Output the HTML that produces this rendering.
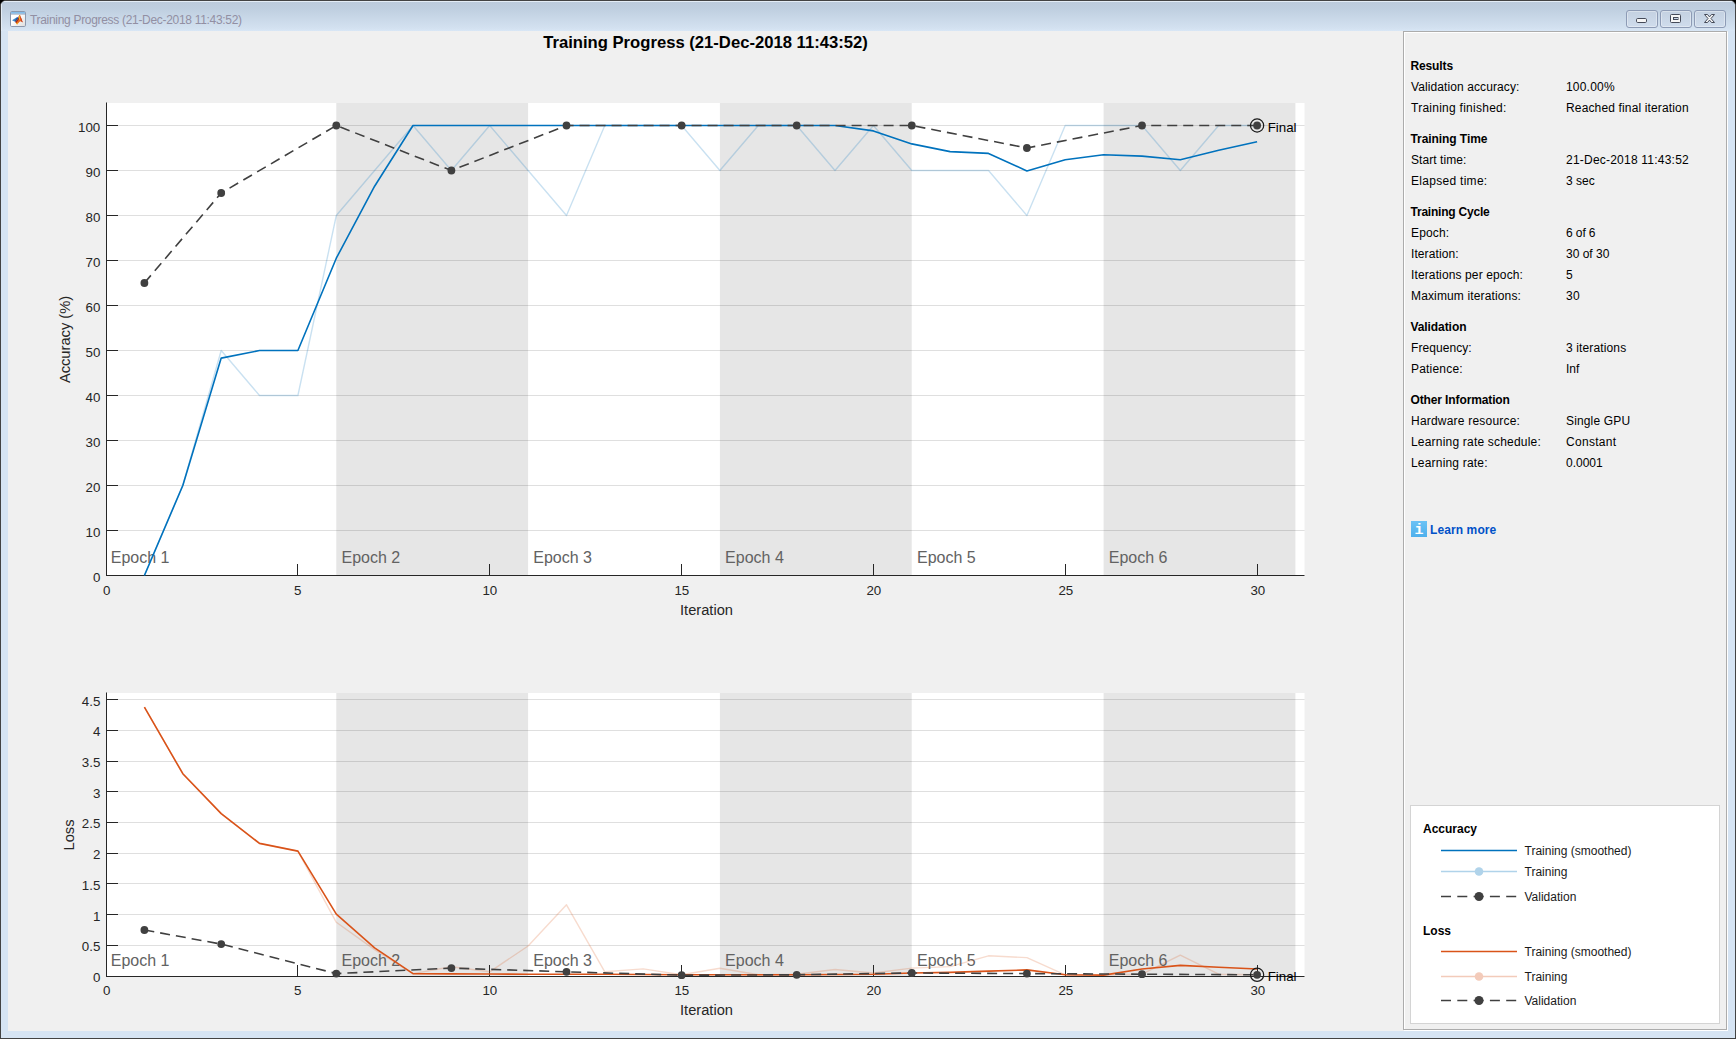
<!DOCTYPE html>
<html lang="en">
<head>
<meta charset="utf-8">
<title>Training Progress (21-Dec-2018 11:43:52)</title>
<style>
html,body{margin:0;padding:0;background:#000;}
body{width:1736px;height:1039px;overflow:hidden;position:relative;font-family:'Liberation Sans', Arial, Helvetica, sans-serif;}
#win{position:absolute;left:0;top:0;width:1734px;height:1037px;border:1px solid #434343;border-radius:6px 6px 0 0;background:#d6e4f3;overflow:hidden;}
#tb{position:absolute;left:0;top:0;width:1734px;height:30px;background:linear-gradient(#bccbdc 0px,#bfcfe0 8px,#d3e1f0 27px,#d8e6f5 30px);box-shadow:inset 0 1px 0 #e4edf6, inset 1px 0 0 #e4edf6;}
#ttl{position:absolute;left:29px;top:11px;font-size:12px;line-height:16px;color:#928fa3;white-space:nowrap;letter-spacing:-0.31px;}
#content{position:absolute;left:7px;top:30px;width:1720px;height:1000px;background:#f0f0f0;}
.wb{position:absolute;top:9px;height:18px;border:1px solid #8d9bb5;border-radius:3px;background:linear-gradient(#c4d1e1,#cfdcec);box-sizing:border-box;box-shadow:inset 0 0 0 1px rgba(255,255,255,.35);}
.t{position:absolute;font-size:12px;line-height:14px;color:#000;white-space:nowrap;}
.b{font-weight:bold;}
svg{position:absolute;left:0;top:0;}
svg text{font-family:'Liberation Sans', Arial, Helvetica, sans-serif;}
</style>
</head>
<body>
<div id="win">
<div id="tb"></div>
<svg width="16" height="16" viewBox="0 0 16 16" style="left:9px;top:10px;width:16px;height:16px">
<defs><linearGradient id="ib" x1="0" y1="0" x2="1" y2="1"><stop offset="0.4" stop-color="#fff"/><stop offset="1" stop-color="#dcdcdc"/></linearGradient></defs>
<rect x="0.5" y="0.5" width="15" height="15" rx="1.2" fill="url(#ib)" stroke="#8b98ad"/>
<rect x="1" y="1" width="14" height="1.800" fill="#84bdea"/>
<rect x="1" y="2.800" width="14" height="0.700" fill="#8b98ad"/>
<path d="M2 9.300 L7.300 5.900 L8.400 7.600 L5.500 11 Z" fill="#3f86c8"/>
<path d="M5.200 9.300 L7.300 5.900 L8.400 7.600 L5.500 11 Z" fill="#28579a"/>
<path d="M5.500 11 L8.300 7.500 L9 4.600 L9.500 4 L10.200 4.200 L11.500 8 L12.800 11.600 L11.300 10.300 L9.800 10.600 L7.100 13.500 L6 12.200 Z" fill="#e8691e"/>
<path d="M5.500 11 L8.300 7.500 L9 4.600 L9.400 4 L9 8 L7.300 10.600 L6 12.200 Z" fill="#a3251a"/>
<path d="M10.200 4.200 L12.800 11.600 L11.300 10.300 L10.600 7.500 Z" fill="#c43a25"/>
<path d="M9.300 4.400 L9.900 4.600 L9.900 8.300 L9.100 9 Z" fill="#f3d628"/>
<path d="M6.100 12.200 L8.300 11.400 L7.100 13.500 Z" fill="#f8b51c"/>
</svg>
<div id="ttl">Training Progress (21-Dec-2018 11:43:52)</div>
<div class="wb" style="left:1625px;width:32px"></div>
<div class="wb" style="left:1659px;width:32px"></div>
<div class="wb" style="left:1693px;width:32px"></div>
<svg width="1734" height="40" style="left:0;top:0">
<rect x="1635.5" y="17.5" width="10" height="4" rx="1.2" fill="#f6f6f6" stroke="#454a58"/>
<rect x="1669.5" y="13.5" width="10" height="8" rx="1" fill="#f6f6f6" stroke="#454a58"/>
<rect x="1672.5" y="16.5" width="4.5" height="2" fill="#c8d5e5" stroke="#454a58"/>
<path d="M1703.5 13.5 h3 l2 2.400 l2 -2.400 h3 l-3.500 4 l3.500 4 h-3 l-2 -2.400 l-2 2.400 h-3 l3.500 -4 z" fill="#f6f6f6" stroke="#454a58" stroke-linejoin="round"/>
</svg>
<div id="content"></div>
</div>
<svg width="1736" height="1039" viewBox="0 0 1736 1039" style="left:0;top:0">
<text x="705.5" y="47.5" font-size="16.65" font-weight="bold" text-anchor="middle" fill="#000">Training Progress (21-Dec-2018 11:43:52)</text>
<!-- right panel border -->
<rect x="1404.500" y="32.500" width="323" height="998" fill="none" stroke="#fff"/>
<rect x="1403.500" y="31.500" width="323" height="998" fill="none" stroke="#acacac"/>
<g id="acc">
<clipPath id="ca"><rect x="106" y="97" width="1208.5" height="485"/></clipPath>
<rect x="106" y="103" width="1198.5" height="473" fill="#fff"/>
<rect x="336.3" y="103" width="191.8" height="473" fill="#e6e6e6"/>
<rect x="719.9" y="103" width="191.8" height="473" fill="#e6e6e6"/>
<rect x="1103.6" y="103" width="191.8" height="473" fill="#e6e6e6"/>
<line x1="107" x2="1304.5" y1="530.5" y2="530.5" stroke="#262626" stroke-opacity="0.15"/>
<line x1="107" x2="1304.5" y1="485.5" y2="485.5" stroke="#262626" stroke-opacity="0.15"/>
<line x1="107" x2="1304.5" y1="440.5" y2="440.5" stroke="#262626" stroke-opacity="0.15"/>
<line x1="107" x2="1304.5" y1="395.5" y2="395.5" stroke="#262626" stroke-opacity="0.15"/>
<line x1="107" x2="1304.5" y1="350.5" y2="350.5" stroke="#262626" stroke-opacity="0.15"/>
<line x1="107" x2="1304.5" y1="305.5" y2="305.5" stroke="#262626" stroke-opacity="0.15"/>
<line x1="107" x2="1304.5" y1="260.5" y2="260.5" stroke="#262626" stroke-opacity="0.15"/>
<line x1="107" x2="1304.5" y1="215.5" y2="215.5" stroke="#262626" stroke-opacity="0.15"/>
<line x1="107" x2="1304.5" y1="170.5" y2="170.5" stroke="#262626" stroke-opacity="0.15"/>
<line x1="107" x2="1304.5" y1="125.5" y2="125.5" stroke="#262626" stroke-opacity="0.15"/>
<line x1="106.5" x2="106.5" y1="102.5" y2="576" stroke="#262626"/>
<line x1="106" x2="1304.5" y1="575.5" y2="575.5" stroke="#262626"/>
<text x="100.3" y="582.0" font-size="13.33" text-anchor="end" fill="#262626">0</text>
<line x1="107" x2="118" y1="530.5" y2="530.5" stroke="#262626"/>
<text x="100.3" y="537.0" font-size="13.33" text-anchor="end" fill="#262626">10</text>
<line x1="107" x2="118" y1="485.5" y2="485.5" stroke="#262626"/>
<text x="100.3" y="492.0" font-size="13.33" text-anchor="end" fill="#262626">20</text>
<line x1="107" x2="118" y1="440.5" y2="440.5" stroke="#262626"/>
<text x="100.3" y="447.0" font-size="13.33" text-anchor="end" fill="#262626">30</text>
<line x1="107" x2="118" y1="395.5" y2="395.5" stroke="#262626"/>
<text x="100.3" y="402.0" font-size="13.33" text-anchor="end" fill="#262626">40</text>
<line x1="107" x2="118" y1="350.5" y2="350.5" stroke="#262626"/>
<text x="100.3" y="357.0" font-size="13.33" text-anchor="end" fill="#262626">50</text>
<line x1="107" x2="118" y1="305.5" y2="305.5" stroke="#262626"/>
<text x="100.3" y="312.0" font-size="13.33" text-anchor="end" fill="#262626">60</text>
<line x1="107" x2="118" y1="260.5" y2="260.5" stroke="#262626"/>
<text x="100.3" y="267.0" font-size="13.33" text-anchor="end" fill="#262626">70</text>
<line x1="107" x2="118" y1="215.5" y2="215.5" stroke="#262626"/>
<text x="100.3" y="222.0" font-size="13.33" text-anchor="end" fill="#262626">80</text>
<line x1="107" x2="118" y1="170.5" y2="170.5" stroke="#262626"/>
<text x="100.3" y="177.0" font-size="13.33" text-anchor="end" fill="#262626">90</text>
<line x1="107" x2="118" y1="125.5" y2="125.5" stroke="#262626"/>
<text x="100.3" y="132.0" font-size="13.33" text-anchor="end" fill="#262626">100</text>
<text x="106.8" y="594.9" font-size="13.33" text-anchor="middle" fill="#262626">0</text>
<line x1="297.5" x2="297.5" y1="564" y2="575" stroke="#262626"/>
<text x="297.8" y="594.9" font-size="13.33" text-anchor="middle" fill="#262626">5</text>
<line x1="489.5" x2="489.5" y1="564" y2="575" stroke="#262626"/>
<text x="489.8" y="594.9" font-size="13.33" text-anchor="middle" fill="#262626">10</text>
<line x1="681.5" x2="681.5" y1="564" y2="575" stroke="#262626"/>
<text x="681.8" y="594.9" font-size="13.33" text-anchor="middle" fill="#262626">15</text>
<line x1="873.5" x2="873.5" y1="564" y2="575" stroke="#262626"/>
<text x="873.8" y="594.9" font-size="13.33" text-anchor="middle" fill="#262626">20</text>
<line x1="1065.5" x2="1065.5" y1="564" y2="575" stroke="#262626"/>
<text x="1065.8" y="594.9" font-size="13.33" text-anchor="middle" fill="#262626">25</text>
<line x1="1257.5" x2="1257.5" y1="564" y2="575" stroke="#262626"/>
<text x="1257.8" y="594.9" font-size="13.33" text-anchor="middle" fill="#262626">30</text>
<text x="706.5" y="615.1" font-size="14.67" text-anchor="middle" fill="#262626">Iteration</text>
<text transform="translate(69.9 339.5) rotate(-90)" font-size="14.67" text-anchor="middle" fill="#262626">Accuracy (%)</text>
<text x="110.8" y="563.1" font-size="16" fill="#626262">Epoch 1</text>
<text x="341.5" y="563.1" font-size="16" fill="#626262">Epoch 2</text>
<text x="533.3" y="563.1" font-size="16" fill="#626262">Epoch 3</text>
<text x="725.1" y="563.1" font-size="16" fill="#626262">Epoch 4</text>
<text x="917.0" y="563.1" font-size="16" fill="#626262">Epoch 5</text>
<text x="1108.8" y="563.1" font-size="16" fill="#626262">Epoch 6</text>
<g clip-path="url(#ca)">
<polyline points="144.4,575.5 182.8,485.5 221.2,350.5 259.5,395.5 297.9,395.5 336.3,215.5 374.6,170.5 413.0,125.5 451.4,170.5 489.7,125.5 528.1,170.5 566.5,215.5 604.8,125.5 643.2,125.5 681.6,125.5 719.9,170.5 758.3,125.5 796.7,125.5 835.0,170.5 873.4,125.5 911.8,170.5 950.1,170.5 988.5,170.5 1026.9,215.5 1065.2,125.5 1103.6,125.5 1142.0,125.5 1180.3,170.5 1218.7,125.5 1257.1,125.5" fill="none" stroke="#0072BD" stroke-opacity="0.21" stroke-width="1.4" stroke-linejoin="round"/>
<polyline points="144.4,575.5 182.8,485.5 221.2,358.1 259.5,350.5 297.9,350.5 336.3,258.2 374.6,186.2 413.0,125.5 451.4,125.5 489.7,125.5 528.1,125.5 566.5,125.5 604.8,125.5 643.2,125.5 681.6,125.5 719.9,125.5 758.3,125.5 796.7,125.5 835.0,125.5 873.4,130.9 911.8,143.9 950.1,151.6 988.5,153.4 1026.9,170.9 1065.2,159.7 1103.6,154.8 1142.0,156.1 1180.3,159.7 1218.7,150.2 1257.1,141.7" fill="none" stroke="#0072BD" stroke-width="1.6" stroke-linejoin="round"/>
<polyline points="144.4,283.0 221.2,193.0 336.3,125.5 451.4,170.5 566.5,125.5 681.6,125.5 796.7,125.5 911.8,125.5 1026.9,148.0 1142.0,125.5 1257.1,125.5" fill="none" stroke="#404040" stroke-width="1.6" stroke-dasharray="10 6"/>
<circle cx="144.4" cy="283.0" r="3.9" fill="#404040"/>
<circle cx="221.2" cy="193.0" r="3.9" fill="#404040"/>
<circle cx="336.3" cy="125.5" r="3.9" fill="#404040"/>
<circle cx="451.4" cy="170.5" r="3.9" fill="#404040"/>
<circle cx="566.5" cy="125.5" r="3.9" fill="#404040"/>
<circle cx="681.6" cy="125.5" r="3.9" fill="#404040"/>
<circle cx="796.7" cy="125.5" r="3.9" fill="#404040"/>
<circle cx="911.8" cy="125.5" r="3.9" fill="#404040"/>
<circle cx="1026.9" cy="148.0" r="3.9" fill="#404040"/>
<circle cx="1142.0" cy="125.5" r="3.9" fill="#404040"/>
<circle cx="1257.1" cy="125.5" r="3.9" fill="#404040"/>
<circle cx="1257.1" cy="125.5" r="6.6" fill="none" stroke="#1a1a1a" stroke-width="1.2"/>
<text x="1267.7" y="131.8" font-size="13.33" fill="#000">Final</text>
</g>
</g>
<g id="loss">
<clipPath id="cl"><rect x="106" y="687" width="1208.5" height="296"/></clipPath>
<rect x="106" y="693" width="1198.5" height="284" fill="#fff"/>
<rect x="336.3" y="693" width="191.8" height="284" fill="#e6e6e6"/>
<rect x="719.9" y="693" width="191.8" height="284" fill="#e6e6e6"/>
<rect x="1103.6" y="693" width="191.8" height="284" fill="#e6e6e6"/>
<line x1="107" x2="1304.5" y1="945.5" y2="945.5" stroke="#262626" stroke-opacity="0.15"/>
<line x1="107" x2="1304.5" y1="914.5" y2="914.5" stroke="#262626" stroke-opacity="0.15"/>
<line x1="107" x2="1304.5" y1="883.5" y2="883.5" stroke="#262626" stroke-opacity="0.15"/>
<line x1="107" x2="1304.5" y1="853.5" y2="853.5" stroke="#262626" stroke-opacity="0.15"/>
<line x1="107" x2="1304.5" y1="822.5" y2="822.5" stroke="#262626" stroke-opacity="0.15"/>
<line x1="107" x2="1304.5" y1="791.5" y2="791.5" stroke="#262626" stroke-opacity="0.15"/>
<line x1="107" x2="1304.5" y1="761.5" y2="761.5" stroke="#262626" stroke-opacity="0.15"/>
<line x1="107" x2="1304.5" y1="730.5" y2="730.5" stroke="#262626" stroke-opacity="0.15"/>
<line x1="107" x2="1304.5" y1="699.5" y2="699.5" stroke="#262626" stroke-opacity="0.15"/>
<line x1="106.5" x2="106.5" y1="692.5" y2="977" stroke="#262626"/>
<line x1="106" x2="1304.5" y1="976.5" y2="976.5" stroke="#262626"/>
<text x="100.3" y="981.9" font-size="13.33" text-anchor="end" fill="#262626">0</text>
<line x1="107" x2="118" y1="945.5" y2="945.5" stroke="#262626"/>
<text x="100.3" y="951.2" font-size="13.33" text-anchor="end" fill="#262626">0.5</text>
<line x1="107" x2="118" y1="914.5" y2="914.5" stroke="#262626"/>
<text x="100.3" y="920.5" font-size="13.33" text-anchor="end" fill="#262626">1</text>
<line x1="107" x2="118" y1="883.5" y2="883.5" stroke="#262626"/>
<text x="100.3" y="889.8" font-size="13.33" text-anchor="end" fill="#262626">1.5</text>
<line x1="107" x2="118" y1="853.5" y2="853.5" stroke="#262626"/>
<text x="100.3" y="859.1" font-size="13.33" text-anchor="end" fill="#262626">2</text>
<line x1="107" x2="118" y1="822.5" y2="822.5" stroke="#262626"/>
<text x="100.3" y="828.4" font-size="13.33" text-anchor="end" fill="#262626">2.5</text>
<line x1="107" x2="118" y1="791.5" y2="791.5" stroke="#262626"/>
<text x="100.3" y="797.7" font-size="13.33" text-anchor="end" fill="#262626">3</text>
<line x1="107" x2="118" y1="761.5" y2="761.5" stroke="#262626"/>
<text x="100.3" y="767.0" font-size="13.33" text-anchor="end" fill="#262626">3.5</text>
<line x1="107" x2="118" y1="730.5" y2="730.5" stroke="#262626"/>
<text x="100.3" y="736.3" font-size="13.33" text-anchor="end" fill="#262626">4</text>
<line x1="107" x2="118" y1="699.5" y2="699.5" stroke="#262626"/>
<text x="100.3" y="705.6" font-size="13.33" text-anchor="end" fill="#262626">4.5</text>
<text x="106.8" y="995.1" font-size="13.33" text-anchor="middle" fill="#262626">0</text>
<line x1="297.5" x2="297.5" y1="965" y2="976" stroke="#262626"/>
<text x="297.8" y="995.1" font-size="13.33" text-anchor="middle" fill="#262626">5</text>
<line x1="489.5" x2="489.5" y1="965" y2="976" stroke="#262626"/>
<text x="489.8" y="995.1" font-size="13.33" text-anchor="middle" fill="#262626">10</text>
<line x1="681.5" x2="681.5" y1="965" y2="976" stroke="#262626"/>
<text x="681.8" y="995.1" font-size="13.33" text-anchor="middle" fill="#262626">15</text>
<line x1="873.5" x2="873.5" y1="965" y2="976" stroke="#262626"/>
<text x="873.8" y="995.1" font-size="13.33" text-anchor="middle" fill="#262626">20</text>
<line x1="1065.5" x2="1065.5" y1="965" y2="976" stroke="#262626"/>
<text x="1065.8" y="995.1" font-size="13.33" text-anchor="middle" fill="#262626">25</text>
<line x1="1257.5" x2="1257.5" y1="965" y2="976" stroke="#262626"/>
<text x="1257.8" y="995.1" font-size="13.33" text-anchor="middle" fill="#262626">30</text>
<text x="706.5" y="1015" font-size="14.67" text-anchor="middle" fill="#262626">Iteration</text>
<text transform="translate(73.5 835) rotate(-90)" font-size="14.67" text-anchor="middle" fill="#262626">Loss</text>
<text x="110.8" y="966.3" font-size="16" fill="#626262">Epoch 1</text>
<text x="341.5" y="966.3" font-size="16" fill="#626262">Epoch 2</text>
<text x="533.3" y="966.3" font-size="16" fill="#626262">Epoch 3</text>
<text x="725.1" y="966.3" font-size="16" fill="#626262">Epoch 4</text>
<text x="917.0" y="966.3" font-size="16" fill="#626262">Epoch 5</text>
<text x="1108.8" y="966.3" font-size="16" fill="#626262">Epoch 6</text>
<g clip-path="url(#cl)">
<polyline points="144.4,707.1 182.8,773.4 221.2,813.6 259.5,843.4 297.9,851.1 336.3,922.3 374.6,949.6 413.0,973.6 451.4,966.8 489.7,971.8 528.1,946.0 566.5,904.8 604.8,971.8 643.2,968.9 681.6,974.8 719.9,968.3 758.3,974.8 796.7,974.2 835.0,969.5 873.4,973.0 911.8,968.1 950.1,966.6 988.5,955.8 1026.9,957.6 1065.2,974.8 1103.6,974.8 1142.0,974.2 1180.3,955.2 1218.7,974.2 1257.1,974.8" fill="none" stroke="#D95319" stroke-opacity="0.21" stroke-width="1.4" stroke-linejoin="round"/>
<polyline points="144.4,707.1 182.8,773.7 221.2,813.6 259.5,843.4 297.9,851.1 336.3,914.2 374.6,947.8 413.0,973.6 451.4,973.9 489.7,974.0 528.1,974.2 566.5,974.2 604.8,974.3 643.2,974.5 681.6,974.8 719.9,974.8 758.3,974.8 796.7,974.8 835.0,974.5 873.4,974.2 911.8,973.0 950.1,972.4 988.5,971.1 1026.9,969.9 1065.2,974.8 1103.6,975.1 1142.0,969.0 1180.3,965.4 1218.7,967.3 1257.1,969.0" fill="none" stroke="#D95319" stroke-width="1.6" stroke-linejoin="round"/>
<polyline points="144.4,930.0 221.2,944.1 336.3,973.6 451.4,968.1 566.5,971.8 681.6,975.2 796.7,974.8 911.8,973.0 1026.9,973.6 1142.0,974.2 1257.1,974.8" fill="none" stroke="#404040" stroke-width="1.6" stroke-dasharray="10 6"/>
<circle cx="144.4" cy="930.0" r="3.9" fill="#404040"/>
<circle cx="221.2" cy="944.1" r="3.9" fill="#404040"/>
<circle cx="336.3" cy="973.6" r="3.9" fill="#404040"/>
<circle cx="451.4" cy="968.1" r="3.9" fill="#404040"/>
<circle cx="566.5" cy="971.8" r="3.9" fill="#404040"/>
<circle cx="681.6" cy="975.2" r="3.9" fill="#404040"/>
<circle cx="796.7" cy="974.8" r="3.9" fill="#404040"/>
<circle cx="911.8" cy="973.0" r="3.9" fill="#404040"/>
<circle cx="1026.9" cy="973.6" r="3.9" fill="#404040"/>
<circle cx="1142.0" cy="974.2" r="3.9" fill="#404040"/>
<circle cx="1257.1" cy="974.8" r="3.9" fill="#404040"/>
<circle cx="1257.1" cy="974.8" r="6.6" fill="none" stroke="#1a1a1a" stroke-width="1.2"/>
<text x="1267.7" y="981.1" font-size="13.33" fill="#000">Final</text>
</g>
</g>
<g id="legend">
<rect x="1410.5" y="805.5" width="309" height="218" fill="#fff" stroke="#d4d4d4"/>
<text x="1423" y="832.6" font-size="12" font-weight="bold" fill="#000">Accuracy</text>
<text x="1423" y="935" font-size="12" font-weight="bold" fill="#000">Loss</text>
<line x1="1441" x2="1517" y1="850.5" y2="850.5" stroke="#0072BD" stroke-width="1.6"/>
<text x="1524.5" y="855.2" font-size="12" fill="#1a1a1a">Training (smoothed)</text>
<line x1="1441" x2="1517" y1="871.5" y2="871.5" stroke="#b0d3ea" stroke-width="1.3"/>
<circle cx="1479" cy="871.5" r="4.3" fill="#b0d3ea"/>
<text x="1524.5" y="876.2" font-size="12" fill="#1a1a1a">Training</text>
<line x1="1441" x2="1517" y1="896.5" y2="896.5" stroke="#404040" stroke-width="1.5" stroke-dasharray="10 6.3"/>
<circle cx="1479" cy="896.5" r="4.5" fill="#404040"/>
<text x="1524.5" y="901.2" font-size="12" fill="#1a1a1a">Validation</text>
<line x1="1441" x2="1517" y1="951.5" y2="951.5" stroke="#D95319" stroke-width="1.6"/>
<text x="1524.5" y="956.2" font-size="12" fill="#1a1a1a">Training (smoothed)</text>
<line x1="1441" x2="1517" y1="976.5" y2="976.5" stroke="#f3cbba" stroke-width="1.3"/>
<circle cx="1479" cy="976.5" r="4.3" fill="#f3cbba"/>
<text x="1524.5" y="981.2" font-size="12" fill="#1a1a1a">Training</text>
<line x1="1441" x2="1517" y1="1000.5" y2="1000.5" stroke="#404040" stroke-width="1.5" stroke-dasharray="10 6.3"/>
<circle cx="1479" cy="1000.5" r="4.5" fill="#404040"/>
<text x="1524.5" y="1005.2" font-size="12" fill="#1a1a1a">Validation</text>
</g>
<defs><linearGradient id="lg" x1="0" y1="0" x2="0" y2="1"><stop offset="0" stop-color="#6bc2f5"/><stop offset="1" stop-color="#4eb0ec"/></linearGradient></defs>
<rect x="1411" y="521" width="16" height="16" fill="url(#lg)"/>
<text x="1419" y="534" font-size="15" font-weight="bold" style="font-family:'Liberation Mono','DejaVu Sans Mono',monospace" text-anchor="middle" fill="#fff">i</text>
</svg>
<div class="t b" style="left:1410.5px;top:59px;letter-spacing:-0.13px">Results</div>
<div class="t" style="left:1411px;top:80px;letter-spacing:0.1px">Validation accuracy:</div>
<div class="t" style="left:1566px;top:80px;letter-spacing:0.2px">100.00%</div>
<div class="t" style="left:1411px;top:101px;letter-spacing:0.26px">Training finished:</div>
<div class="t" style="left:1566px;top:101px;letter-spacing:0.145px">Reached final iteration</div>
<div class="t b" style="left:1410.5px;top:132px;letter-spacing:-0.07px">Training Time</div>
<div class="t" style="left:1411px;top:153px;letter-spacing:0.06px">Start time:</div>
<div class="t" style="left:1566px;top:153px;letter-spacing:0.22px">21-Dec-2018 11:43:52</div>
<div class="t" style="left:1411px;top:174px;letter-spacing:0.29px">Elapsed time:</div>
<div class="t" style="left:1566px;top:174px">3 sec</div>
<div class="t b" style="left:1410.5px;top:205px;letter-spacing:-0.22px">Training Cycle</div>
<div class="t" style="left:1411px;top:226px;letter-spacing:0.16px">Epoch:</div>
<div class="t" style="left:1566px;top:226px;letter-spacing:-0.1px">6 of 6</div>
<div class="t" style="left:1411px;top:247px;letter-spacing:0.09px">Iteration:</div>
<div class="t" style="left:1566px;top:247px">30 of 30</div>
<div class="t" style="left:1411px;top:268px;letter-spacing:0.125px">Iterations per epoch:</div>
<div class="t" style="left:1566px;top:268px">5</div>
<div class="t" style="left:1411px;top:289px;letter-spacing:0.14px">Maximum iterations:</div>
<div class="t" style="left:1566px;top:289px;letter-spacing:0.4px">30</div>
<div class="t b" style="left:1410.5px;top:320px;letter-spacing:-0.08px">Validation</div>
<div class="t" style="left:1411px;top:341px;letter-spacing:0.07px">Frequency:</div>
<div class="t" style="left:1566px;top:341px;letter-spacing:0.13px">3 iterations</div>
<div class="t" style="left:1411px;top:362px;letter-spacing:0.2px">Patience:</div>
<div class="t" style="left:1566px;top:362px">Inf</div>
<div class="t b" style="left:1410.5px;top:393px;letter-spacing:-0.12px">Other Information</div>
<div class="t" style="left:1411px;top:414px;letter-spacing:0.21px">Hardware resource:</div>
<div class="t" style="left:1566px;top:414px;letter-spacing:0.15px">Single GPU</div>
<div class="t" style="left:1411px;top:435px;letter-spacing:0.2px">Learning rate schedule:</div>
<div class="t" style="left:1566px;top:435px;letter-spacing:0.3px">Constant</div>
<div class="t" style="left:1411px;top:456px;letter-spacing:0.19px">Learning rate:</div>
<div class="t" style="left:1566px;top:456px">0.0001</div>
<div class="t b" style="left:1430px;top:523px;color:#0050c8;letter-spacing:0.1px">Learn more</div>
</body>
</html>
